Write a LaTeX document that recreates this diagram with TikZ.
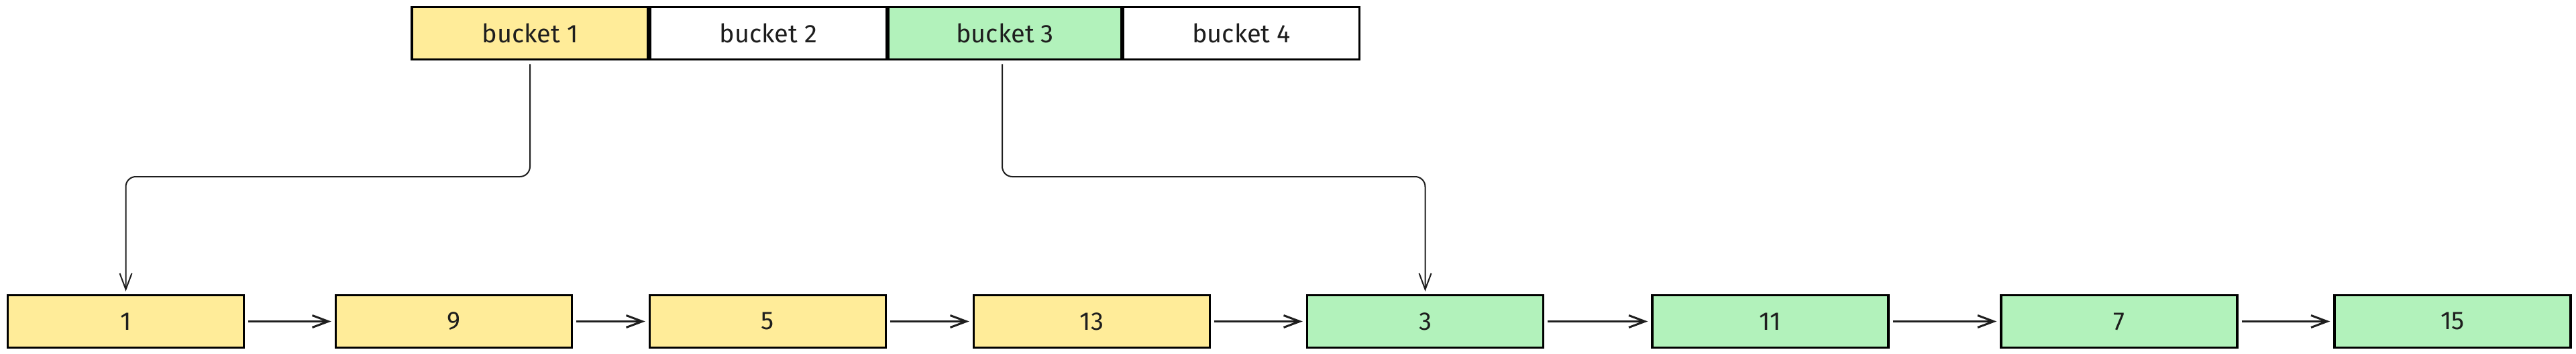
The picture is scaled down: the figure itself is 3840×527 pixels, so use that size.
\documentclass[tikz,border=0pt]{standalone}
\usepackage{fontspec}
\setmainfont{Fira Sans}
\usetikzlibrary{arrows.meta}
\definecolor{yel}{HTML}{FFEC99}
\definecolor{grn}{HTML}{B2F2BB}
\definecolor{ink}{HTML}{1E1E1E}
\begin{document}
\begin{tikzpicture}[x=1pt,y=-1pt,
  cell/.style={draw=black, line width=3.5pt, minimum width=352pt, minimum height=78pt,
    inner sep=0pt, text=ink, font=\fontsize{38}{44}\selectfont},
  link/.style={draw=ink, line width=2pt, rounded corners=15pt,
    -{Straight Barb[length=24pt,width=18pt,line width=2pt]}},
  nextarrow/.style={draw=ink, line width=3pt, shorten <=5pt, shorten >=5pt,
    -{Straight Barb[length=24pt,width=18pt,line width=3pt]}}]
\useasboundingbox (0,0) rectangle (3840,527);
% buckets
\node[cell, fill=yel] (b1) at (790,49.5) {bucket 1};
\node[cell, fill=white] (b2) at (1145.5,49.5) {bucket 2};
\node[cell, fill=grn, minimum width=347pt] (b3) at (1498,49.5) {bucket 3};
\node[cell, fill=white] (b4) at (1850.5,49.5) {bucket 4};
% list
\node[cell, fill=yel] (n1) at (187.5,478.5) {1};
\node[cell, fill=yel] (n9) at (676.5,478.5) {9};
\node[cell, fill=yel] (n5) at (1144.5,478.5) {5};
\node[cell, fill=yel] (n13) at (1627.5,478.5) {13};
\node[cell, fill=grn] (n3) at (2124.5,478.5) {3};
\node[cell, fill=grn] (n11) at (2639,478.5) {11};
\node[cell, fill=grn] (n7) at (3159,478.5) {7};
\node[cell, fill=grn] (n15) at (3656,478.5) {15};
% bucket links
\coordinate (m) at (0,263);
\draw[link] ([yshift=-5pt]b1.south) -- (b1.south |- m) -| ([yshift=4pt]n1.north);
\draw[link] ([xshift=-4pt,yshift=-5pt]b3.south) -- ([xshift=-4pt]b3.south |- m) -| ([yshift=4pt]n3.north);
% next pointers
\draw[nextarrow] (n1) -- (n9);
\draw[nextarrow] (n9) -- (n5);
\draw[nextarrow] (n5) -- (n13);
\draw[nextarrow] (n13) -- (n3);
\draw[nextarrow] (n3) -- (n11);
\draw[nextarrow] (n11) -- (n7);
\draw[nextarrow] (n7) -- (n15);
\end{tikzpicture}
\end{document}
